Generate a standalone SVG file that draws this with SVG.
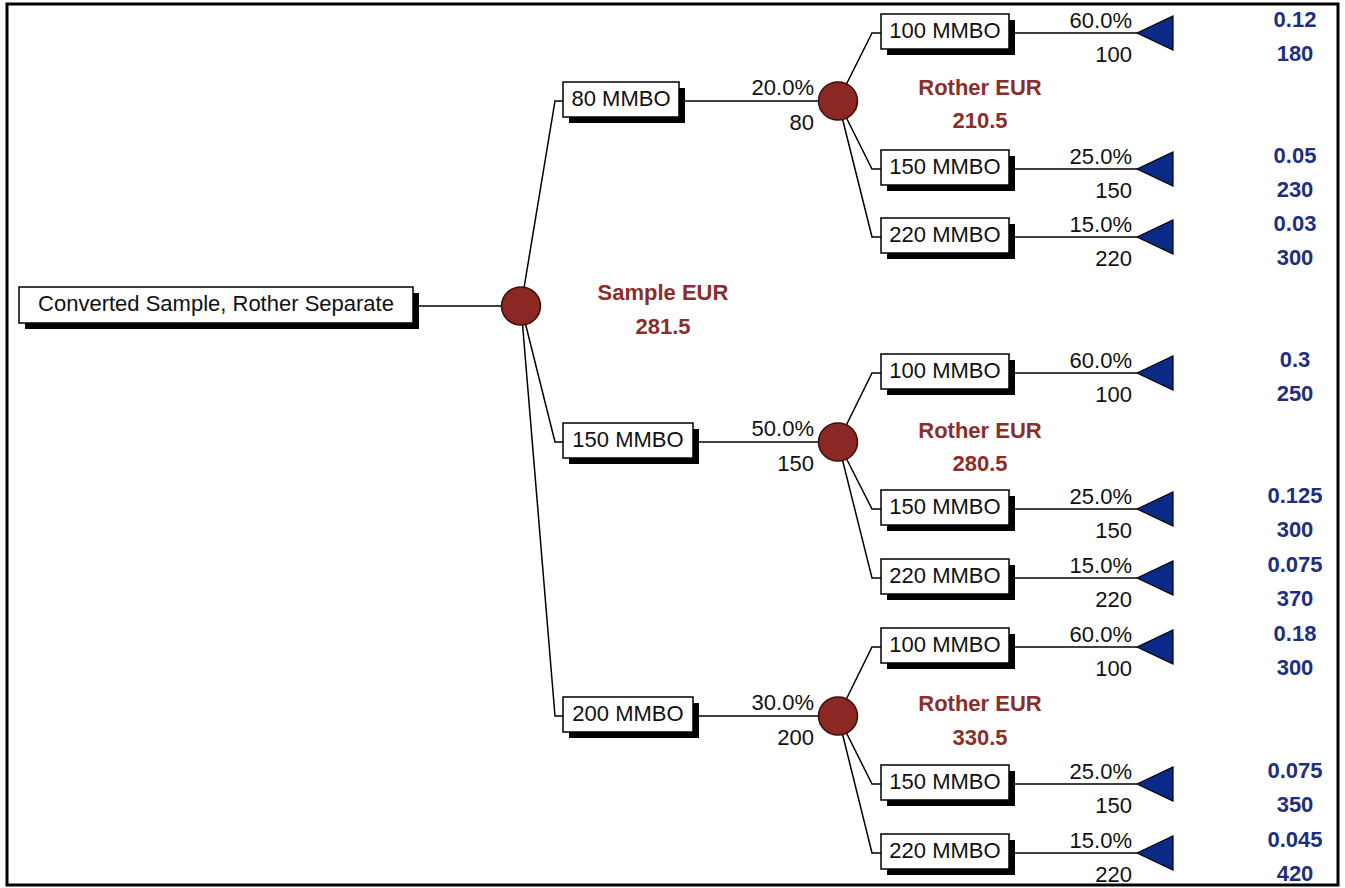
<svg xmlns="http://www.w3.org/2000/svg" width="1345" height="888" viewBox="0 0 1345 888">
  <style>
    .frame { fill: none; stroke: #000; stroke-width: 3; }
    .wire { fill: none; stroke: #000; stroke-width: 1.5; }
    .box { fill: #fff; stroke: #000; stroke-width: 1.5; }
    .shadow { fill: #000; }
    .chance { fill: #8b2823; stroke: #3b0d0b; stroke-width: 1.5; }
    .end { fill: #0b2a88; stroke: #000; stroke-width: 1.2; }
    .lbl { font-family: "Liberation Sans", Arial, sans-serif; font-size: 22px; fill: #111; }
    .mid { text-anchor: middle; }
    .rt { text-anchor: end; }
    .ev { font-family: "Liberation Sans", Arial, sans-serif; font-size: 22px; font-weight: bold; fill: #8b2e2b; text-anchor: middle; }
    .val { font-family: "Liberation Sans", Arial, sans-serif; font-size: 22px; font-weight: bold; fill: #1f2f80; text-anchor: middle; }
  </style>

  <rect x="0" y="0" width="1345" height="888" fill="#fff"/>
  <rect class="frame" x="7" y="4" width="1331" height="881"/>

  <!-- connectors -->
  <g id="connectors" class="wire">
    <!-- root -->
    <path d="M413 306 H521"/>
    <path d="M521 306 L555 101 H563"/>
    <path d="M521 306 L555 442 H563"/>
    <path d="M521 306 L555 716 H563"/>
    <!-- level 1 to chance nodes -->
    <path d="M679 101 H838"/>
    <path d="M693 442 H838"/>
    <path d="M693 716 H838"/>
    <!-- top chance node -->
    <path d="M838 101 L872 33 H881"/>
    <path d="M838 101 L872 169 H881"/>
    <path d="M838 101 L872 237 H881"/>
    <path d="M1009 33 H1137"/>
    <path d="M1009 169 H1137"/>
    <path d="M1009 237 H1137"/>
    <!-- middle chance node -->
    <path d="M838 442 L872 373 H881"/>
    <path d="M838 442 L872 509 H881"/>
    <path d="M838 442 L872 578 H881"/>
    <path d="M1009 373 H1137"/>
    <path d="M1009 509 H1137"/>
    <path d="M1009 578 H1137"/>
    <!-- bottom chance node -->
    <path d="M838 716 L872 647 H881"/>
    <path d="M838 716 L872 784 H881"/>
    <path d="M838 716 L872 853 H881"/>
    <path d="M1009 647 H1137"/>
    <path d="M1009 784 H1137"/>
    <path d="M1009 853 H1137"/>
  </g>

  <!-- root decision -->
  <g id="root">
    <rect class="shadow" x="25" y="293" width="394" height="36"/>
    <rect class="box" x="19" y="287" width="394" height="36"/>
    <text class="lbl mid" x="216" y="311">Converted Sample, Rother Separate</text>
  </g>
  <g id="sample-chance">
    <ellipse class="chance" cx="521" cy="306" rx="19.5" ry="19"/>
    <text class="ev" x="663" y="300">Sample EUR</text>
    <text class="ev" x="663" y="334">281.5</text>
  </g>

  <!-- first level outcomes -->
  <g id="s80">
    <rect class="shadow" x="569" y="88" width="116" height="35"/>
    <rect class="box" x="563" y="82" width="116" height="35"/>
    <text class="lbl mid" x="621" y="106">80 MMBO</text>
    <text class="lbl rt" x="814" y="95">20.0%</text>
    <text class="lbl rt" x="814" y="130">80</text>
  </g>
  <g id="s150">
    <rect class="shadow" x="569" y="429" width="130" height="35"/>
    <rect class="box" x="563" y="423" width="130" height="35"/>
    <text class="lbl mid" x="628" y="447">150 MMBO</text>
    <text class="lbl rt" x="814" y="436">50.0%</text>
    <text class="lbl rt" x="814" y="471">150</text>
  </g>
  <g id="s200">
    <rect class="shadow" x="569" y="703" width="130" height="35"/>
    <rect class="box" x="563" y="697" width="130" height="35"/>
    <text class="lbl mid" x="628" y="721">200 MMBO</text>
    <text class="lbl rt" x="814" y="710">30.0%</text>
    <text class="lbl rt" x="814" y="745">200</text>
  </g>

  <!-- top rother chance -->
  <g id="r80">
    <ellipse class="chance" cx="838" cy="101" rx="19.5" ry="19"/>
    <text class="ev" x="980" y="95">Rother EUR</text>
    <text class="ev" x="980" y="128">210.5</text>
  </g>
  <g id="r80-100">
    <rect class="shadow" x="887" y="20" width="128" height="35"/>
    <rect class="box" x="881" y="14" width="128" height="35"/>
    <text class="lbl mid" x="945" y="38">100 MMBO</text>
    <text class="lbl rt" x="1132" y="28">60.0%</text>
    <text class="lbl rt" x="1132" y="62">100</text>
    <polygon class="end" points="1137,33 1173,16 1173,50"/>
    <text class="val" x="1295" y="27">0.12</text>
    <text class="val" x="1295" y="61">180</text>
  </g>
  <g id="r80-150">
    <rect class="shadow" x="887" y="156" width="128" height="35"/>
    <rect class="box" x="881" y="150" width="128" height="35"/>
    <text class="lbl mid" x="945" y="174">150 MMBO</text>
    <text class="lbl rt" x="1132" y="164">25.0%</text>
    <text class="lbl rt" x="1132" y="198">150</text>
    <polygon class="end" points="1137,169 1173,152 1173,186"/>
    <text class="val" x="1295" y="163">0.05</text>
    <text class="val" x="1295" y="197">230</text>
  </g>
  <g id="r80-220">
    <rect class="shadow" x="887" y="224" width="128" height="35"/>
    <rect class="box" x="881" y="218" width="128" height="35"/>
    <text class="lbl mid" x="945" y="242">220 MMBO</text>
    <text class="lbl rt" x="1132" y="232">15.0%</text>
    <text class="lbl rt" x="1132" y="266">220</text>
    <polygon class="end" points="1137,237 1173,220 1173,254"/>
    <text class="val" x="1295" y="231">0.03</text>
    <text class="val" x="1295" y="265">300</text>
  </g>

  <!-- middle rother chance -->
  <g id="r150">
    <ellipse class="chance" cx="838" cy="442" rx="19.5" ry="19"/>
    <text class="ev" x="980" y="438">Rother EUR</text>
    <text class="ev" x="980" y="471">280.5</text>
  </g>
  <g id="r150-100">
    <rect class="shadow" x="887" y="360" width="128" height="35"/>
    <rect class="box" x="881" y="354" width="128" height="35"/>
    <text class="lbl mid" x="945" y="378">100 MMBO</text>
    <text class="lbl rt" x="1132" y="368">60.0%</text>
    <text class="lbl rt" x="1132" y="402">100</text>
    <polygon class="end" points="1137,373 1173,356 1173,390"/>
    <text class="val" x="1295" y="367">0.3</text>
    <text class="val" x="1295" y="401">250</text>
  </g>
  <g id="r150-150">
    <rect class="shadow" x="887" y="496" width="128" height="35"/>
    <rect class="box" x="881" y="490" width="128" height="35"/>
    <text class="lbl mid" x="945" y="514">150 MMBO</text>
    <text class="lbl rt" x="1132" y="504">25.0%</text>
    <text class="lbl rt" x="1132" y="538">150</text>
    <polygon class="end" points="1137,509 1173,492 1173,526"/>
    <text class="val" x="1295" y="503">0.125</text>
    <text class="val" x="1295" y="537">300</text>
  </g>
  <g id="r150-220">
    <rect class="shadow" x="887" y="565" width="128" height="35"/>
    <rect class="box" x="881" y="559" width="128" height="35"/>
    <text class="lbl mid" x="945" y="583">220 MMBO</text>
    <text class="lbl rt" x="1132" y="573">15.0%</text>
    <text class="lbl rt" x="1132" y="607">220</text>
    <polygon class="end" points="1137,578 1173,561 1173,595"/>
    <text class="val" x="1295" y="572">0.075</text>
    <text class="val" x="1295" y="606">370</text>
  </g>

  <!-- bottom rother chance -->
  <g id="r200">
    <ellipse class="chance" cx="838" cy="716" rx="19.5" ry="19"/>
    <text class="ev" x="980" y="711">Rother EUR</text>
    <text class="ev" x="980" y="745">330.5</text>
  </g>
  <g id="r200-100">
    <rect class="shadow" x="887" y="634" width="128" height="35"/>
    <rect class="box" x="881" y="628" width="128" height="35"/>
    <text class="lbl mid" x="945" y="652">100 MMBO</text>
    <text class="lbl rt" x="1132" y="642">60.0%</text>
    <text class="lbl rt" x="1132" y="676">100</text>
    <polygon class="end" points="1137,647 1173,630 1173,664"/>
    <text class="val" x="1295" y="641">0.18</text>
    <text class="val" x="1295" y="675">300</text>
  </g>
  <g id="r200-150">
    <rect class="shadow" x="887" y="771" width="128" height="35"/>
    <rect class="box" x="881" y="765" width="128" height="35"/>
    <text class="lbl mid" x="945" y="789">150 MMBO</text>
    <text class="lbl rt" x="1132" y="779">25.0%</text>
    <text class="lbl rt" x="1132" y="813">150</text>
    <polygon class="end" points="1137,784 1173,767 1173,801"/>
    <text class="val" x="1295" y="778">0.075</text>
    <text class="val" x="1295" y="812">350</text>
  </g>
  <g id="r200-220">
    <rect class="shadow" x="887" y="840" width="128" height="35"/>
    <rect class="box" x="881" y="834" width="128" height="35"/>
    <text class="lbl mid" x="945" y="858">220 MMBO</text>
    <text class="lbl rt" x="1132" y="848">15.0%</text>
    <text class="lbl rt" x="1132" y="882">220</text>
    <polygon class="end" points="1137,853 1173,836 1173,870"/>
    <text class="val" x="1295" y="847">0.045</text>
    <text class="val" x="1295" y="881">420</text>
  </g>
</svg>
